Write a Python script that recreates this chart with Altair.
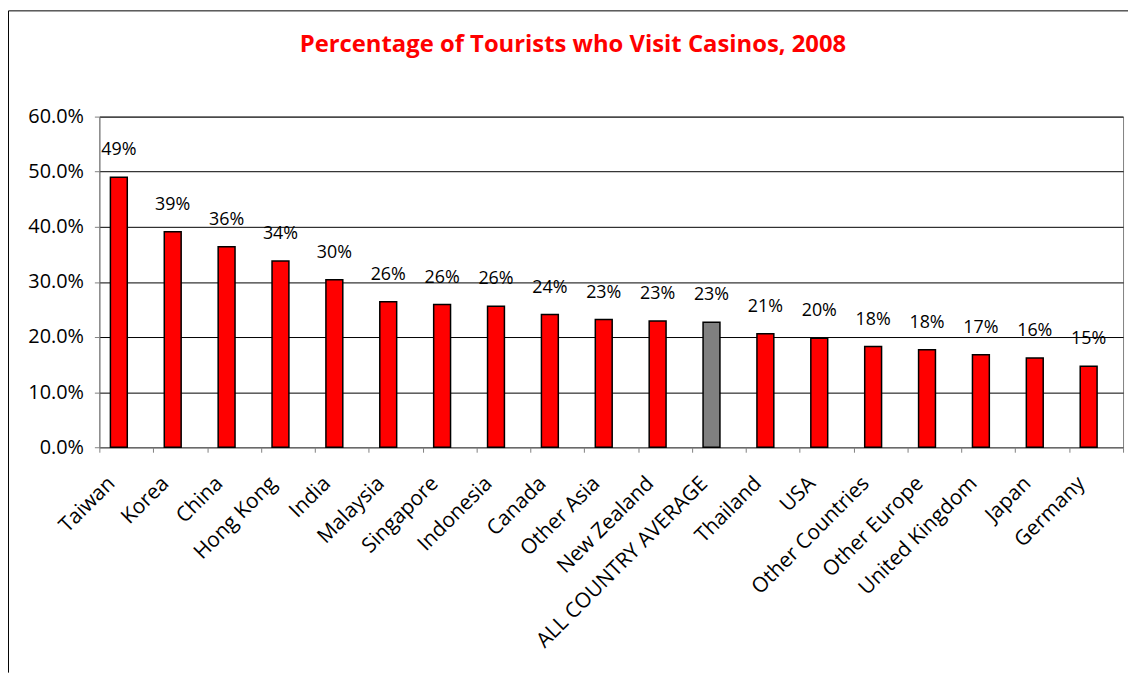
import altair as alt
import pandas as pd

# ---- data ----
countries = [
    "Taiwan", "Korea", "China", "Hong Kong", "India", "Malaysia", "Singapore",
    "Indonesia", "Canada", "Other Asia", "New Zealand", "ALL COUNTRY AVERAGE",
    "Thailand", "USA", "Other Countries", "Other Europe", "United Kingdom",
    "Japan", "Germany",
]
shares = [
    0.490, 0.391, 0.364, 0.338, 0.304, 0.264, 0.259,
    0.256, 0.241, 0.232, 0.229, 0.227,
    0.206, 0.198, 0.183, 0.177, 0.168,
    0.162, 0.147,
]
kinds = ["average" if c == "ALL COUNTRY AVERAGE" else "country" for c in countries]
y_ticks = [0.0, 0.1, 0.2, 0.3, 0.4, 0.5, 0.6]
title_text = "Percentage of Tourists who Visit Casinos, 2008"

df = pd.DataFrame({"country": countries, "share": shares, "kind": kinds})
one = pd.DataFrame({"a": [0]})

W, H = 1031, 333
FONT = "Open Sans"

x_enc = alt.X(
    "country:N", sort=countries,
    scale=alt.Scale(paddingInner=0, paddingOuter=0),
    axis=alt.Axis(
        title=None, labelAngle=-45, labelAlign="right", labelBaseline="middle",
        labelOffset=-15, labelPadding=28, tickBand="extent", tickSize=5,
        tickColor="#808080", domainColor="#808080", labelFont=FONT,
        labelFontSize=21, labelColor="#000000", grid=False, labelOverlap=False,
        labelLimit=500,
    ),
)
y_enc = alt.Y(
    "share:Q",
    scale=alt.Scale(domain=[0, 0.6], nice=False),
    axis=alt.Axis(
        title=None, format=".1%", values=y_ticks, tickSize=5, tickColor="#808080",
        domainColor="#808080", labelFont=FONT, labelFontSize=20, labelPadding=11,
        labelColor="#000000", grid=True, gridColor="#000000", gridWidth=1,
    ),
)

bars = alt.Chart(df).mark_bar(
    size=17, xOffset=-7.5, stroke="#000000", strokeWidth=1.5
).encode(
    x=x_enc, y=y_enc,
    color=alt.Color("kind:N", scale=alt.Scale(domain=["country", "average"],
                                              range=["#FF0000", "#808080"]), legend=None),
)

labels = alt.Chart(df).mark_text(
    dx=-7.5, dy=-22, baseline="alphabetic", align="center", font=FONT,
    fontSize=18, color="#000000",
).encode(
    x=alt.X("country:N", sort=countries),
    y=alt.Y("share:Q"),
    text=alt.Text("share:Q", format=".0%"),
)

title = alt.Chart(one).mark_text(
    text=title_text, font=FONT, fontSize=24, fontWeight="bold", color="#FF0000",
    align="center", baseline="alphabetic",
).encode(x=alt.value(477), y=alt.value(-65.5))

border_top = alt.Chart(one).mark_rule(color="#000000", strokeWidth=1).encode(
    x=alt.value(-91.5), x2=alt.value(W + 5), y=alt.value(-106.5))
border_left = alt.Chart(one).mark_rule(color="#000000", strokeWidth=1).encode(
    x=alt.value(-91.5), y=alt.value(-106.5), y2=alt.value(560))

chart = alt.layer(bars, labels, title, border_top, border_left).properties(
    width=W, height=H,
    padding={"left": 92, "top": 107, "right": 5, "bottom": 227},
    autosize=alt.AutoSizeParams(type="none"),
).configure_view(stroke="#808080", strokeWidth=1)

chart.save("out.html", embed_options={"renderer": "svg", "actions": False})
